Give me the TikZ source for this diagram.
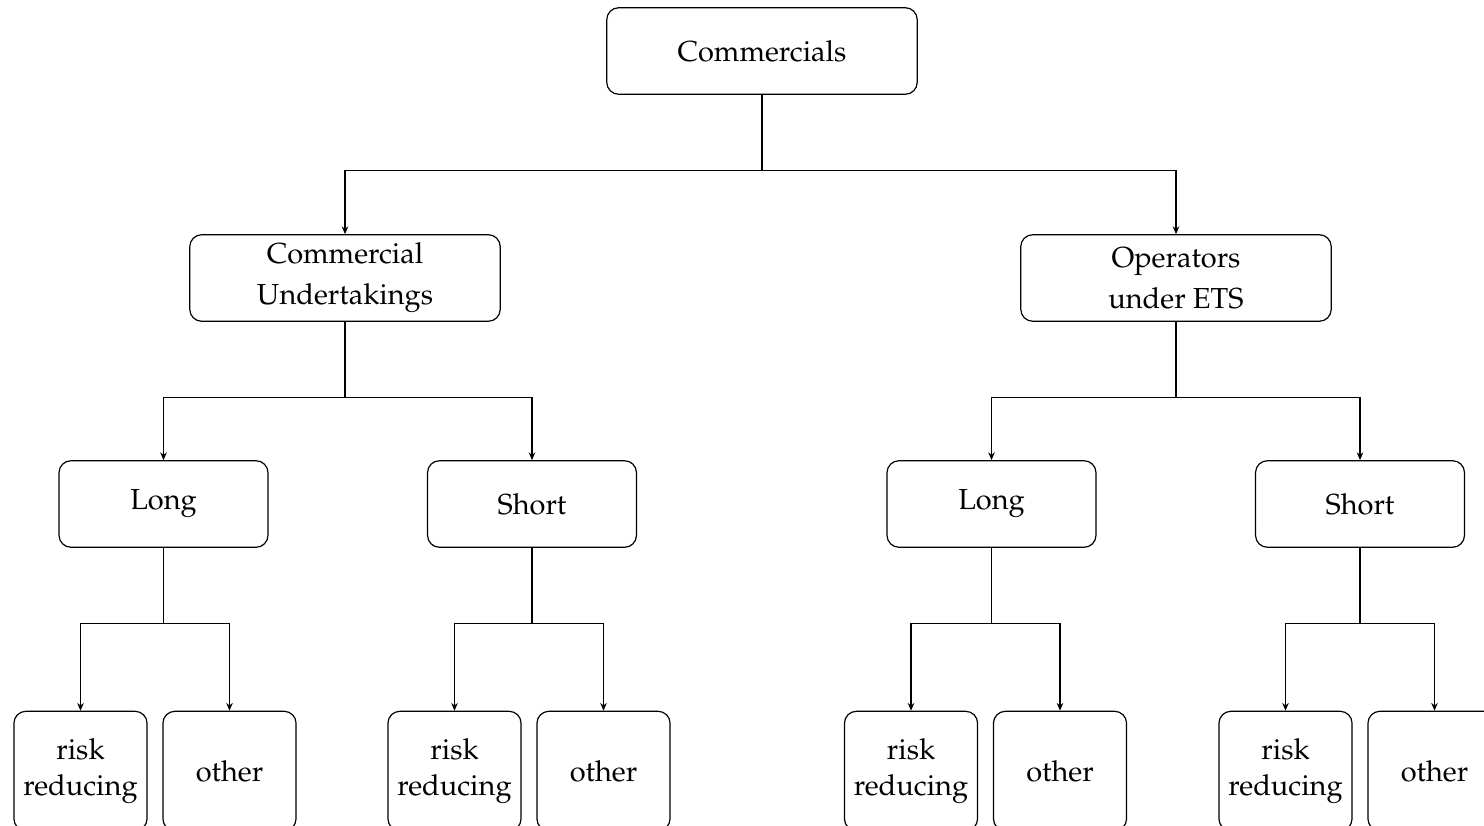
\documentclass[tikz,border=0pt]{standalone}
\usepackage[T1]{fontenc}
\usepackage{mathpazo}
\usepackage{tikz}
\usetikzlibrary{calc,positioning,arrows.meta}

\begin{document}
\begin{tikzpicture}[x=0.335pt, y=-0.335pt,
    box/.style={draw,rounded corners,align=center,minimum height=29pt,inner sep=2pt,
        font=\fontsize{9.7}{13.7}\selectfont},
    big/.style={box,minimum width=104pt},
    mid/.style={box,minimum width=70pt},
    leaf/.style={box,minimum width=44.6pt,minimum height=40pt,
        font=\fontsize{9.7}{12.1}\selectfont},
    tree/.style={-{Stealth[length=2.6pt,width=2.2pt]},thin}]
    \useasboundingbox (0,0) rectangle (1484,826);

    \node[big] (com) at (762,51) {Commercials};

    \node[big] (und) at (345,278) {Commercial\\Undertakings};
    \node[big] (ets) at (1176,278) {Operators\\under ETS};

    \node[mid] (ul) at (163.5,504) {Long};
    \node[mid] (us) at (532,504) {Short};
    \node[mid] (el) at (991.5,504) {Long};
    \node[mid] (es) at (1360,504) {Short};

    \node[leaf] (ulr) at (80.5,771) {risk\\reducing};
    \node[leaf] (ulo) at (229.5,771) {other};
    \node[leaf] (usr) at (454.5,771) {risk\\reducing};
    \node[leaf] (uso) at (603.5,771) {other};
    \node[leaf] (elr) at (911,771) {risk\\reducing};
    \node[leaf] (elo) at (1060,771) {other};
    \node[leaf] (esr) at (1285.5,771) {risk\\reducing};
    \node[leaf] (eso) at (1434.5,771) {other};

    % stems
    \draw (com.south) -- ++(0,76) coordinate (comj);
    \draw (und.south) -- ++(0,76) coordinate (undj);
    \draw (ets.south) -- ++(0,76) coordinate (etsj);
    \draw (ul.south) -- ++(0,76) coordinate (ulj);
    \draw (us.south) -- ++(0,76) coordinate (usj);
    \draw (el.south) -- ++(0,76) coordinate (elj);
    \draw (es.south) -- ++(0,76) coordinate (esj);

    % branches
    \draw[tree] (comj) -| (und.north);
    \draw[tree] (comj) -| (ets.north);
    \draw[tree] (undj) -| (ul.north);
    \draw[tree] (undj) -| (us.north);
    \draw[tree] (etsj) -| (el.north);
    \draw[tree] (etsj) -| (es.north);
    \draw[tree] (ulj) -| (ulr.north);
    \draw[tree] (ulj) -| (ulo.north);
    \draw[tree] (usj) -| (usr.north);
    \draw[tree] (usj) -| (uso.north);
    \draw[tree] (elj) -| (elr.north);
    \draw[tree] (elj) -| (elo.north);
    \draw[tree] (esj) -| (esr.north);
    \draw[tree] (esj) -| (eso.north);
\end{tikzpicture}
\end{document}
